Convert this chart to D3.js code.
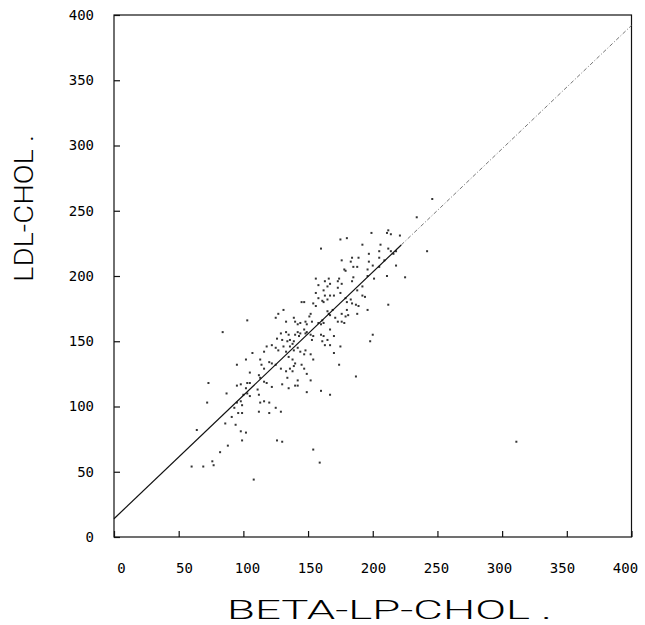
<!DOCTYPE html>
<html>
<head>
<meta charset="utf-8">
<script src="https://cdn.jsdelivr.net/npm/d3@7"></script>
<style>
  body { margin: 0; background: #fff; }
  .tick text { font-family: "DejaVu Sans Mono", monospace; font-size: 14px; fill: #000; }
  .title { font-family: Roboto, "DejaVu Sans", sans-serif; font-weight: 300; fill: #000; }
</style>
</head>
<body>
<svg width="645" height="625"></svg>
<script>
// tick values for both axes
const xTicks = [0, 50, 100, 150, 200, 250, 300, 350, 400];
const yTicks = [0, 50, 100, 150, 200, 250, 300, 350, 400];

// regression line: intercept, slope, end of the solid part
const lineIntercept = 14;
const lineSlope = 0.945;
const lineSolidEnd = 222;

// BETA-LP-CHOL (x) vs LDL-CHOL (y)
const points = [
    [246,259],[234,245],[212,235],[211,233],[214,232],[199,233],[221,231],[175,228],[180,229],[192,224],
    [206,224],[160,221],[212,221],[214,219],[242,219],[197,217],[205,219],[218,219],[216,217],[184,214],
    [189,214],[176,212],[183,211],[197,211],[205,214],[209,212],[178,205],[179,204],[185,207],[188,207],
    [196,205],[200,208],[205,207],[218,208],[225,199],[211,200],[156,198],[166,198],[174,198],[185,199],
    [196,200],[201,198],
    [212,178],[158,193],[163,196],[173,196],[176,194],[184,196],[173,191],[175,187],[162,189],[163,185],
    [156,187],[167,185],[170,185],[158,183],[161,181],[162,180],[165,182],[154,179],[156,177],[147,180],
    [145,180],[179,183],[180,180],[183,182],[184,179],[187,178],[189,177],[192,185],[194,184],[196,174],
    [188,171],[181,170],[179,169],[176,165],[178,164],[171,168],[173,165],[165,173],[166,171],[167,170],
    [169,174],[161,166],[158,164],[160,163],[162,164],[152,171],[151,169],[153,165],[148,165],[149,163],
    [144,164],[139,168],[140,165],[142,163],[147,159],[148,156],[149,157],[144,156],[142,157],[140,155],
    [143,154],[152,155],[154,154],[153,151],[160,155],[162,154],[161,150],[165,151],[163,147],[167,147],
    [170,141],[175,146],[136,151],[138,148],[139,150],[136,146],[139,143],[142,145],[144,142],[148,143],
    [147,140],[152,140],[154,136],[138,136],[140,133],[139,131],[145,132],[147,129],[149,125],[136,129],
    [138,127],[187,123],[200,155],[198,150],[174,132],[170,154],[167,159],[176,171],[180,174],[188,189],
    [192,192],[165,192],[167,194],
    [131,174],[127,171],[125,168],[133,165],[103,166],[84,157],[129,156],[133,157],[135,155],[126,152],
    [130,151],[134,150],[122,147],[125,145],[127,143],[131,146],[118,146],[116,142],[133,142],[135,138],
    [107,141],[102,136],[95,132],[113,136],[114,132],[116,129],[120,134],[122,133],[125,132],[129,129],
    [105,126],[112,124],[113,122],[133,127],[134,122],
    [73,118],[95,116],[98,117],[103,118],[105,118],[116,119],[118,118],[122,115],[130,117],[135,114],
    [102,114],[103,110],[111,113],[112,109],[105,108],[100,109],[113,103],[116,104],[120,103],[125,99],
    [129,96],[112,96],[120,95],[95,103],[99,101],[98,104],[93,99],[96,95],[99,95],[87,110],
    [91,92],[86,87],[94,86],[72,103],[98,81],[102,80],[99,74],[64,82],[126,74],[130,73],
    [88,70],[82,65],[60,54],[69,54],[76,58],[77,55],[108,44],
    [142,120],[152,120],[140,116],[142,116],[149,111],[160,112],[167,109],[154,67],[159,57],
    [311,73]
];

const svg = d3.select("svg");
const plotLeft = 114, plotRight = 631.5, plotTop = 15, plotBottom = 537;

const x = d3.scaleLinear().domain([0, 400]).range([plotLeft, plotRight]);
const y = d3.scaleLinear().domain([0, 400]).range([plotBottom, plotTop]);
// the plotter put the x labels on a slightly tighter spacing than the ticks
const xLabel = d3.scaleLinear().domain([0, 400]).range([121, 625]);

// frame
svg.append("rect")
    .attr("x", plotLeft).attr("y", plotTop)
    .attr("width", plotRight - plotLeft).attr("height", plotBottom - plotTop)
    .attr("fill", "none").attr("stroke", "#111").attr("stroke-width", 1.2);

// axes, ticks point inward
const xAxis = svg.append("g")
    .attr("transform", `translate(0,${plotBottom})`)
    .call(d3.axisBottom(x).tickValues(xTicks).tickSize(-6).tickPadding(26).tickFormat(d3.format("d")));
xAxis.select(".domain").remove();
xAxis.selectAll(".tick line").attr("stroke", "#111").attr("stroke-width", 1.2);
xAxis.selectAll(".tick text").attr("x", d => xLabel(d) - x(d));

const yAxis = svg.append("g")
    .attr("transform", `translate(${plotLeft},0)`)
    .call(d3.axisLeft(y).tickValues(yTicks).tickSize(-6).tickPadding(20).tickFormat(d3.format("d")));
yAxis.select(".domain").remove();
yAxis.selectAll(".tick line").attr("stroke", "#111").attr("stroke-width", 1.2);

// regression line: solid through the data, dotted beyond
const lineY = v => lineIntercept + lineSlope * v;
svg.append("line")
    .attr("x1", x(0)).attr("y1", y(lineY(0)))
    .attr("x2", x(lineSolidEnd)).attr("y2", y(lineY(lineSolidEnd)))
    .attr("stroke", "#111").attr("stroke-width", 1.2);
svg.append("line")
    .attr("x1", x(lineSolidEnd)).attr("y1", y(lineY(lineSolidEnd)))
    .attr("x2", x(400)).attr("y2", y(lineY(400)))
    .attr("stroke", "#666").attr("stroke-width", 0.9)
    .attr("stroke-dasharray", "4,2,1,2");

// points
svg.append("g")
    .selectAll("rect")
    .data(points)
    .enter().append("rect")
    .attr("x", d => x(d[0]) - 1)
    .attr("y", d => y(d[1]) - 1)
    .attr("width", 2)
    .attr("height", 2)
    .attr("fill", "#111")
    .attr("opacity", 0.85);

// axis titles
svg.append("text")
    .attr("class", "title")
    .attr("x", 227).attr("y", 619)
    .attr("font-size", 26)
    .attr("textLength", 325).attr("lengthAdjust", "spacingAndGlyphs")
    .text("BETA-LP-CHOL .");

svg.append("text")
    .attr("class", "title")
    .attr("transform", "translate(33,282) rotate(-90)")
    .attr("font-size", 25)
    .attr("textLength", 147).attr("lengthAdjust", "spacingAndGlyphs")
    .text("LDL-CHOL .");
</script>
</body>
</html>
